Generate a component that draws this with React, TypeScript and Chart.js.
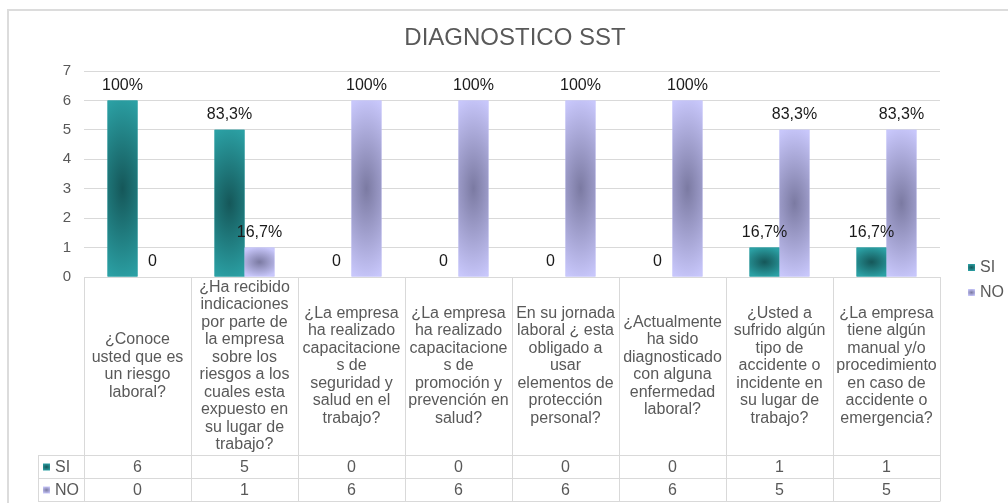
import React, { useEffect, useRef } from 'react';
import { Chart, registerables } from 'chart.js';

Chart.register(...registerables);

const TITLE = 'DIAGNOSTICO SST';
const seriesNames = ['SI', 'NO'];
const categories: string[][] = [
  ['¿Conoce', 'usted que es', 'un riesgo', 'laboral?'],
  ['¿Ha recibido', 'indicaciones', 'por parte de', 'la empresa', 'sobre los', 'riesgos a los', 'cuales esta', 'expuesto en', 'su lugar de', 'trabajo?'],
  ['¿La empresa', 'ha realizado', 'capacitacione', 's de', 'seguridad y', 'salud en el', 'trabajo?'],
  ['¿La empresa', 'ha realizado', 'capacitacione', 's de', 'promoción y', 'prevención en', 'salud?'],
  ['En su jornada', 'laboral ¿ esta', 'obligado a', 'usar', 'elementos de', 'protección', 'personal?'],
  ['¿Actualmente', 'ha sido', 'diagnosticado', 'con alguna', 'enfermedad', 'laboral?'],
  ['¿Usted a', 'sufrido algún', 'tipo de', 'accidente o', 'incidente en', 'su lugar de', 'trabajo?'],
  ['¿La empresa', 'tiene algún', 'manual y/o', 'procedimiento', 'en caso de', 'accidente o', 'emergencia?'],
];
const siValues = [6, 5, 0, 0, 0, 0, 1, 1];
const noValues = [0, 1, 6, 6, 6, 6, 5, 5];
const yTicks = [0, 1, 2, 3, 4, 5, 6, 7];

const FONT = '"Liberation Sans", Arial, sans-serif';
const TEXT = '#595959';
const LINE = '#d9d9d9';
const OUTER = ['#2ba0a4', '#c8c7fb'];
const INNER = ['#155759', '#7b7aa2'];

function pctLabel(v: number, total: number): string {
  if (v === 0) return '0';
  const r = Math.round((v / total) * 1000) / 10;
  const s = r % 1 === 0 ? r.toFixed(0) : r.toFixed(1);
  return s.replace('.', ',') + '%';
}

function gradRect(ctx: CanvasRenderingContext2D, left: number, top: number, w: number, h: number, si: number, kx = 2.4) {
  const hw = w / 2, hh = h / 2;
  const cx = left + hw, cy = top + hh;
  const rx = hw * kx, ry = Math.max(hh * 1.05, 1);
  ctx.save();
  ctx.beginPath();
  ctx.rect(left, top, w, h);
  ctx.clip();
  ctx.translate(cx, cy);
  ctx.scale(rx, ry);
  const g = ctx.createRadialGradient(0, 0, 0, 0, 0, 1);
  g.addColorStop(0, INNER[si]);
  g.addColorStop(1, OUTER[si]);
  ctx.fillStyle = g;
  ctx.fillRect(-3, -3, 6, 6);
  ctx.restore();
}

const sstPlugin = {
  id: 'sstPlugin',
  beforeDraw(chart: any) {
    const ctx = chart.ctx as CanvasRenderingContext2D;
    ctx.save();
    ctx.fillStyle = '#ffffff';
    ctx.fillRect(0, 0, chart.width, chart.height);
    ctx.strokeStyle = '#dcdcdc';
    ctx.lineWidth = 2;
    ctx.beginPath();
    ctx.moveTo(8, chart.height + 2);
    ctx.lineTo(8, 10);
    ctx.lineTo(chart.width + 2, 10);
    ctx.stroke();
    ctx.restore();
  },
  afterDatasetsDraw(chart: any) {
    const ctx = chart.ctx as CanvasRenderingContext2D;
    const labels: { t: string; x: number; y: number }[] = [];
    chart.data.datasets.forEach((ds: any, di: number) => {
      const meta = chart.getDatasetMeta(di);
      meta.data.forEach((el: any, i: number) => {
        const p = el.getProps(['x', 'y', 'base', 'width'], true);
        const top = Math.min(p.y, p.base);
        const h = Math.abs(p.base - p.y);
        const sq = h < p.width * 1.5;
        if (h > 0.5) gradRect(ctx, p.x - p.width / 2, top, p.width, h, di, sq ? 1.45 : 2.4);
        const total = siValues[i] + noValues[i];
        labels.push({ t: pctLabel(ds.data[i], total), x: p.x, y: p.y - 15 });
      });
    });
    ctx.save();
    ctx.fillStyle = '#1a1a1a';
    ctx.font = `16px ${FONT}`;
    ctx.textAlign = 'center';
    ctx.textBaseline = 'middle';
    labels.forEach((l) => ctx.fillText(l.t, l.x, l.y));
    ctx.restore();
  },
  afterDraw(chart: any) {
    const ctx = chart.ctx as CanvasRenderingContext2D;
    const xs = chart.scales.x;
    const area = chart.chartArea;
    const n = categories.length;
    const cw = (area.right - area.left) / n;
    const headTop = area.bottom;
    const rowH = 23;
    const tableBottom = 501;
    const row2Top = tableBottom - rowH;
    const row1Top = row2Top - rowH;
    const legLeft = 38;

    ctx.save();
    ctx.fillStyle = TEXT;
    ctx.font = `24px ${FONT}`;
    ctx.textAlign = 'center';
    ctx.textBaseline = 'middle';
    ctx.fillText(TITLE, 515, 38);

    ctx.strokeStyle = LINE;
    ctx.lineWidth = 1;
    ctx.beginPath();
    [row1Top, row2Top, tableBottom].forEach((y) => {
      ctx.moveTo(legLeft, y + 0.5);
      ctx.lineTo(area.right, y + 0.5);
    });
    ctx.moveTo(area.left, headTop + 0.5);
    ctx.lineTo(area.right, headTop + 0.5);
    for (let i = 0; i <= n; i++) {
      const x = Math.round(area.left + i * cw) + 0.5;
      ctx.moveTo(x, headTop);
      ctx.lineTo(x, tableBottom + 0.5);
    }
    ctx.moveTo(legLeft + 0.5, row1Top);
    ctx.lineTo(legLeft + 0.5, tableBottom + 0.5);
    ctx.stroke();

    ctx.fillStyle = TEXT;
    ctx.font = `16px ${FONT}`;
    ctx.textAlign = 'center';
    ctx.textBaseline = 'middle';
    const lh = 17.5;
    const midY = (headTop + row1Top) / 2;
    categories.forEach((lines, i) => {
      const cx = xs.getPixelForValue(i);
      const start = midY - ((lines.length - 1) * lh) / 2;
      lines.forEach((t, k) => ctx.fillText(t, cx, start + k * lh));
    });

    const rows = [siValues, noValues];
    rows.forEach((vals, r) => {
      const cy = (r === 0 ? row1Top : row2Top) + rowH / 2 + 1;
      vals.forEach((v, i) => ctx.fillText(String(v), xs.getPixelForValue(i), cy));
      gradRect(ctx, 43, cy - 4, 7, 7, r, 1.45);
      ctx.textAlign = 'left';
      ctx.fillText(seriesNames[r], 55, cy);
      ctx.textAlign = 'center';
    });

    ctx.textAlign = 'left';
    [268, 293].forEach((cy, r) => {
      gradRect(ctx, 968, cy - 4, 7, 7, r, 1.45);
      ctx.fillText(seriesNames[r], 980, cy);
    });
    ctx.restore();
  },
};

export default function App() {
  const ref = useRef<HTMLCanvasElement | null>(null);
  useEffect(() => {
    document.body.style.margin = '0';
    if (!ref.current) return;
    const chart = new Chart(ref.current, {
      type: 'bar',
      data: {
        labels: categories.map((c) => c.join(' ')),
        datasets: [
          { label: seriesNames[0], data: siValues, backgroundColor: OUTER[0], categoryPercentage: 0.56, barPercentage: 1 },
          { label: seriesNames[1], data: noValues, backgroundColor: OUTER[1], categoryPercentage: 0.56, barPercentage: 1 },
        ],
      },
      options: {
        responsive: false,
        animation: false,
        devicePixelRatio: 1,
        layout: { padding: { left: 0, right: 68, top: 71, bottom: 226 } },
        plugins: { legend: { display: false }, title: { display: false }, tooltip: { enabled: false } },
        scales: {
          x: { display: false },
          y: {
            min: 0,
            max: 7,
            afterFit: (s: any) => { s.width = 84; },
            afterBuildTicks: (s: any) => { s.ticks = yTicks.map((v) => ({ value: v })); },
            border: { display: false },
            grid: { color: LINE, drawTicks: false },
            ticks: { padding: 13, color: TEXT, font: { family: FONT, size: 15 } },
          },
        },
      },
      plugins: [sstPlugin],
    });
    return () => chart.destroy();
  }, []);
  return (
    <div style={{ position: 'fixed', left: 0, top: 0, width: 1008, height: 503 }}>
      <canvas ref={ref} width={1008} height={503} style={{ display: 'block' }} />
    </div>
  );
}
